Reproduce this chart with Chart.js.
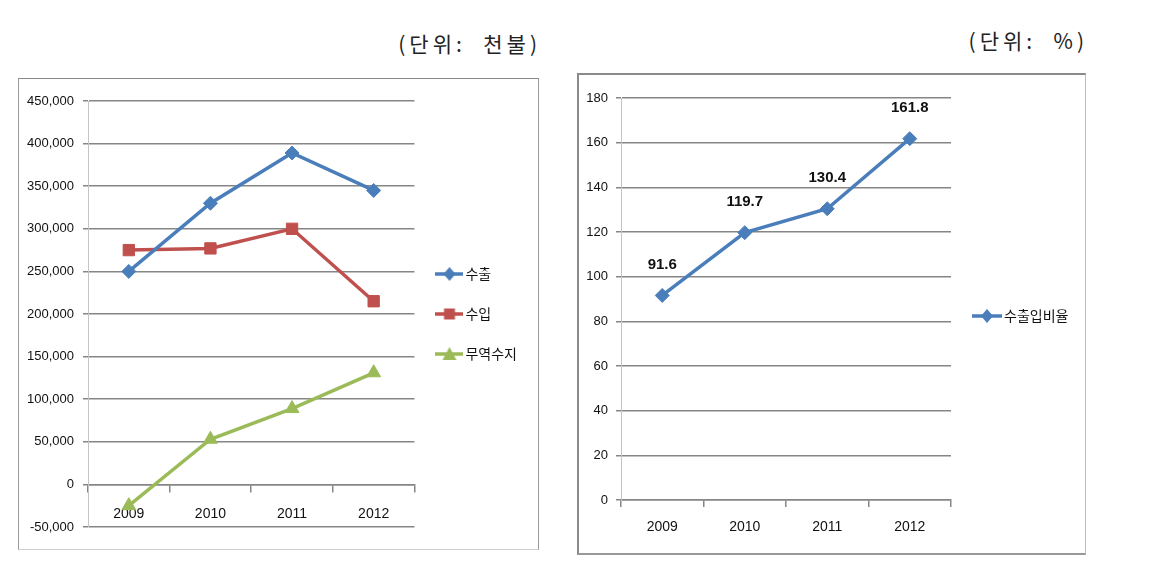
<!DOCTYPE html>
<html>
<head>
<meta charset="utf-8">
<script src="https://cdn.jsdelivr.net/npm/chart.js@4.4.1/dist/chart.umd.min.js"></script>
<style>
  body { margin: 0; background: #fff; width: 1161px; height: 582px; position: relative; overflow: hidden; font-family: "Noto Sans CJK KR", sans-serif; }
  .unit { position: absolute; font-size: 21px; line-height: 28px; color: #222; white-space: pre; letter-spacing: 4px; }
  .box { position: absolute; box-sizing: border-box; border: 1px solid #8c8c8c; background: #fff; }
  .box canvas { display: block; }
</style>
</head>
<body>
<div class="unit" style="right:620px; top:29px;">(단위:  천불)</div>
<div class="unit" style="right:73px; top:26px;">(단위:  %)</div>

<div class="box" style="left:18px; top:78px; width:521px; height:472px; border-color:#8a8a8a #999 #cfcfcf #999;">
  <canvas id="trade-chart" width="519" height="470"></canvas>
</div>
<div class="box" style="left:577px; top:73px; width:509px; height:482px; border-width:2px 1px 2px 2px; border-color:#8a8a8a #bbb #999 #8a8a8a;">
  <canvas id="ratio-chart" width="506" height="478"></canvas>
</div>

<script>
const years = ['2009', '2010', '2011', '2012'];

// 단위: 천불
const exportVals = [250000, 330000, 389000, 345000];
const importVals = [275000, 277000, 300000, 215000];
const balanceVals = [-25000, 53000, 89000, 131000];

// 단위: %
const ratioVals = [91.6, 119.7, 130.4, 161.8];

const blue = '#4a7ebb';
const red = '#c0504d';
const green = '#9bbb59';
const gridColor = '#868686';
const yFont = { family: '"Liberation Sans", Arial, sans-serif', size: 13 };
const xFont = { family: '"Liberation Sans", Arial, sans-serif', size: 14 };
const legendFont = { family: '"Noto Sans CJK KR", sans-serif', size: 14 };

// legend sample: a short line with the marker on it
function legendSample(color, style, w) {
  const c = document.createElement('canvas');
  c.width = w;
  c.height = 18;
  const g = c.getContext('2d');
  g.strokeStyle = color;
  g.fillStyle = color;
  g.lineWidth = 3.5;
  g.beginPath();
  g.moveTo(0, 9);
  g.lineTo(w, 9);
  g.stroke();
  const cx = w / 2;
  g.beginPath();
  if (style === 'rectRot') {
    g.moveTo(cx, 2); g.lineTo(cx + 6, 9); g.lineTo(cx, 16); g.lineTo(cx - 6, 9);
  } else if (style === 'rect') {
    g.rect(cx - 5.5, 3.5, 11, 11);
  } else {
    g.moveTo(cx, 2); g.lineTo(cx + 7, 15); g.lineTo(cx - 7, 15);
  }
  g.closePath();
  g.fill();
  return c;
}

function legendWithSamples(samples) {
  return function (chart) {
    const items = Chart.defaults.plugins.legend.labels.generateLabels(chart);
    items.forEach((it, i) => { it.pointStyle = samples[i]; });
    return items;
  };
}

function lineSet(label, data, color, style, radius) {
  return {
    label: label,
    data: data,
    borderColor: color,
    backgroundColor: color,
    borderWidth: 3.5,
    pointStyle: style,
    pointRadius: radius,
    pointHoverRadius: radius,
    pointBorderWidth: 1,
    tension: 0
  };
}

new Chart(document.getElementById('trade-chart'), {
  type: 'line',
  data: {
    labels: years,
    datasets: [
      lineSet('수출', exportVals, blue, 'rectRot', 7),
      lineSet('수입', importVals, red, 'rect', 8),
      lineSet('무역수지', balanceVals, green, 'triangle', 8)
    ]
  },
  options: {
    responsive: false,
    animation: false,
    layout: { padding: { left: 0, top: 22, right: 11, bottom: 22 } },
    plugins: {
      tooltip: { enabled: false },
      legend: {
        position: 'right',
        align: 'center',
        labels: {
          usePointStyle: true,
          pointStyleWidth: 18,
          padding: 26,
          color: '#111',
          font: legendFont,
          generateLabels: legendWithSamples([
            legendSample(blue, 'rectRot', 28),
            legendSample(red, 'rect', 28),
            legendSample(green, 'triangle', 28)
          ])
        }
      }
    },
    scales: {
      x: {
        position: { y: 0 },
        offset: true,
        grid: { offset: true, drawOnChartArea: false, tickLength: 7, color: gridColor, lineWidth: 1.5 },
        border: { color: gridColor, width: 1.5 },
        ticks: { color: '#111', font: xFont, padding: 14, maxRotation: 0 }
      },
      y: {
        min: -50000,
        max: 450000,
        afterFit: (scale) => { scale.width = 69; },
        grid: { color: gridColor, lineWidth: 1.5, tickLength: 5 },
        border: { color: '#c4c4c4', width: 1 },
        ticks: {
          stepSize: 50000,
          color: '#111',
          font: yFont,
          padding: 9,
          callback: (v) => v.toLocaleString('en-US')
        }
      }
    }
  }
});

// value labels above the points
const pointValues = {
  id: 'pointValues',
  afterDatasetsDraw(chart) {
    const ctx = chart.ctx;
    const meta = chart.getDatasetMeta(0);
    ctx.save();
    ctx.font = 'bold 15px "Liberation Sans", Arial, sans-serif';
    ctx.fillStyle = '#111';
    ctx.textAlign = 'center';
    ctx.textBaseline = 'middle';
    meta.data.forEach((pt, i) => {
      ctx.fillText(String(chart.data.datasets[0].data[i]), pt.x, pt.y - 31);
    });
    ctx.restore();
  }
};

new Chart(document.getElementById('ratio-chart'), {
  type: 'line',
  data: {
    labels: years,
    datasets: [lineSet('수출입비율', ratioVals, blue, 'rectRot', 7)]
  },
  plugins: [pointValues],
  options: {
    responsive: false,
    animation: false,
    layout: { padding: { left: 0, top: 23, right: 10, bottom: 19 } },
    plugins: {
      tooltip: { enabled: false },
      legend: {
        position: 'right',
        align: 'center',
        labels: {
          usePointStyle: true,
          pointStyleWidth: 20,
          padding: 26,
          color: '#111',
          font: legendFont,
          generateLabels: legendWithSamples([legendSample(blue, 'rectRot', 30)])
        }
      }
    },
    scales: {
      x: {
        offset: true,
        afterFit: (scale) => { scale.height = 34; },
        grid: { offset: true, drawOnChartArea: false, tickLength: 7, color: gridColor, lineWidth: 1.5 },
        border: { color: gridColor, width: 1.5 },
        ticks: { color: '#111', font: xFont, padding: 12, maxRotation: 0 }
      },
      y: {
        min: 0,
        max: 180,
        afterFit: (scale) => { scale.width = 42; },
        grid: { color: gridColor, lineWidth: 1.5, tickLength: 5 },
        border: { color: '#c4c4c4', width: 1 },
        ticks: { stepSize: 20, color: '#111', font: yFont, padding: 8 }
      }
    }
  }
});
</script>
</body>
</html>
